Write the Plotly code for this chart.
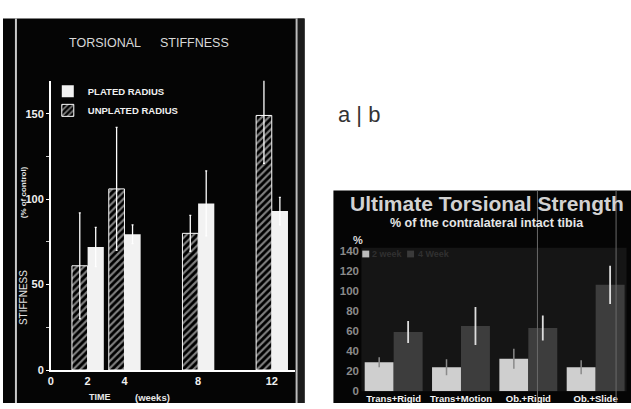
import plotly.graph_objects as go

W, H = 631, 409
FONT = "Liberation Sans, Arial, sans-serif"

# ---- Panel a: Torsional stiffness ----
weeks = [2, 4, 8, 12]
week_ticks = [0, 2, 4, 8, 12]
unplated = [61, 106, 80, 149]
unplated_err = [31, 36, 10.5, 28]
plated = [72, 79.5, 97.5, 93]
plated_err = [11.5, 5.5, 19, 8]
stiff_ticks = [0, 50, 100, 150]

# ---- Panel b: Ultimate torsional strength ----
groups = ["Trans+Rigid", "Trans+Motion", "Ob.+Rigid", "Ob.+Slide"]
wk2 = [29, 24, 32.5, 24]
wk2_err = [5, 8, 10, 7]
wk4 = [59, 65, 63, 106]
wk4_err = [11, 19, 12.5, 19]
pct_ticks = [0, 20, 40, 60, 80, 100, 120, 140]


def px(x):
    return x / W


def py(y):
    return 1 - y / H


fig = go.Figure()

fig.add_trace(go.Bar(
    x=weeks, y=unplated, name="UNPLATED RADIUS", legendrank=2,
    offset=-0.85, width=0.85, xaxis="x", yaxis="y",
    marker=dict(color="black", line=dict(color="white", width=1),
                pattern=dict(shape="/", fgcolor="white", bgcolor="black",
                             size=5, solidity=0.42)),
    error_y=dict(type="data", array=unplated_err, visible=True,
                 color="white", thickness=1.3, width=1),
    legend="legend",
))
fig.add_trace(go.Bar(
    x=weeks, y=plated, name="PLATED RADIUS", legendrank=1,
    offset=0, width=0.88, xaxis="x", yaxis="y",
    marker=dict(color="#f2f2f2", line=dict(width=0)),
    error_y=dict(type="data", array=plated_err, visible=True,
                 color="white", thickness=1.3, width=1),
    legend="legend",
))

fig.add_trace(go.Bar(
    x=groups, y=wk2, name="2 week", xaxis="x2", yaxis="y2",
    marker=dict(color="#cfcfcf", line=dict(width=0)),
    error_y=dict(type="data", array=wk2_err, visible=True,
                 color="#8a8a8a", thickness=1.5, width=0),
    showlegend=False,
))
fig.add_trace(go.Bar(
    x=groups, y=wk4, name="4 Week", xaxis="x2", yaxis="y2",
    marker=dict(color="#3d3d3d", line=dict(width=0)),
    error_y=dict(type="data", array=wk4_err, visible=True,
                 color="#dddddd", thickness=1.8, width=0),
    showlegend=False,
))

shapes = [
    # black photographic backgrounds
    dict(type="rect", xref="paper", yref="paper", x0=0, x1=px(303), y0=0, y1=py(13),
         fillcolor="#050505", line=dict(width=0), layer="below"),
    dict(type="rect", xref="paper", yref="paper", x0=px(296), x1=px(303), y0=0, y1=py(13),
         fillcolor="#1c1c1c", line=dict(width=0), layer="below"),
    dict(type="line", xref="paper", yref="paper", x0=px(13), x1=px(13), y0=0, y1=py(13),
         line=dict(color="#c8c8c8", width=2), layer="below"),
    dict(type="line", xref="paper", yref="paper", x0=px(295), x1=px(295), y0=0, y1=py(13),
         line=dict(color="#bdbdbd", width=2), layer="below"),
    dict(type="rect", xref="paper", yref="paper", x0=px(332), x1=1, y0=0, y1=py(190),
         fillcolor="#050505", line=dict(width=0), layer="below"),
    dict(type="rect", xref="x2 domain", yref="y2 domain", x0=0.005, x1=0.99, y0=0, y1=1.02,
         fillcolor="#151515", line=dict(width=0), layer="below"),
    dict(type="line", xref="paper", yref="paper", x0=px(537), x1=px(537), y0=0, y1=py(190),
         line=dict(color="#6a6a6a", width=1)),
    dict(type="line", xref="paper", yref="paper", x0=px(616), x1=px(616), y0=0, y1=py(190),
         line=dict(color="#6a6a6a", width=1)),
    # right panel legend swatches
    dict(type="rect", xref="paper", yref="paper", x0=px(361), x1=px(368), y0=py(259), y1=py(252),
         fillcolor="#bcbcbc", line=dict(width=0)),
    dict(type="rect", xref="paper", yref="paper", x0=px(406), x1=px(413), y0=py(259), y1=py(252),
         fillcolor="#3a3a3a", line=dict(width=0)),
]

ann = []


def text(x, y, s, size, color, bold=False, angle=0, xanchor="center"):
    ann.append(dict(x=px(x), y=py(y), xref="paper", yref="paper", text=s, showarrow=False,
                    xanchor=xanchor, yanchor="middle", textangle=angle,
                    font=dict(family=FONT, size=size, color=color,
                              weight="bold" if bold else "normal")))


text(102.5, 38, "TORSIONAL", 12.5, "#d8d8d8")
text(192.5, 38, "STIFFNESS", 12.5, "#d8d8d8")
text(20, 300, "STIFFNESS", 10, "#e2e2e2", angle=-90)
text(20, 192, "(% of control)", 8, "#e6e6e6", bold=True, angle=-90)
text(97.5, 403, "TIME", 9, "#e8e8e8", bold=True)
text(150.5, 403, "(weeks)", 9.5, "#e8e8e8", bold=True)

text(357.5, 112, "a | b", 22, "#333333")

text(486.5, 203.5, "Ultimate Torsional Strength", 21, "#d2d2d2", bold=True)
text(486.5, 224, "% of the contralateral intact tibia", 12.5, "#e6e6e6", bold=True)
text(357, 241, "%", 11, "#dddddd", bold=True)
text(369, 256, "2 week", 9, "#303030", bold=True, xanchor="left")
text(415, 256, "4 Week", 9, "#303030", bold=True, xanchor="left")

fig.update_layout(
    width=W, height=H, autosize=False,
    margin=dict(l=0, r=0, t=0, b=0, pad=0),
    paper_bgcolor="white", plot_bgcolor="rgba(0,0,0,0)",
    font=dict(family=FONT),
    barmode="group", bargap=0.14, bargroupgap=0,
    shapes=shapes, annotations=ann,
    xaxis=dict(domain=[px(48), px(293)], range=[0, 13.24], anchor="y",
               tickvals=week_ticks, ticktext=[str(t) for t in week_ticks],
               showline=True, linecolor="white", linewidth=1.5, ticks="",
               showgrid=False, zeroline=False,
               tickfont=dict(family=FONT, size=11, color="#f0f0f0", weight="bold")),
    yaxis=dict(domain=[py(375), py(77)], range=[0, (375 - 77) / 1.76], anchor="x",
               tickvals=stiff_ticks, showline=True, linecolor="white", linewidth=1.5,
               ticks="outside", ticklen=3, tickcolor="white", tickwidth=1.2,
               minor=dict(tickvals=[25, 75, 125], ticks="outside", ticklen=3,
                          tickcolor="#cccccc", tickwidth=1, showgrid=False),
               showgrid=False, zeroline=False,
               tickfont=dict(family=FONT, size=11, color="#f0f0f0", weight="bold")),
    xaxis2=dict(domain=[px(358.7), px(629.3)], range=[-0.5, 3.5], anchor="y2",
                type="category", showline=False, ticks="", showgrid=False, zeroline=False,
                tickfont=dict(family=FONT, size=9.5, color="#f4f4f4", weight="bold")),
    yaxis2=dict(domain=[py(397), py(252)], range=[0, 140], anchor="x2",
                tickvals=pct_ticks, showline=False, ticks="", showgrid=False, zeroline=False,
                tickfont=dict(family=FONT, size=11.5, color="#8a8a8a", weight="bold")),
    legend=dict(x=px(45), y=py(73), xanchor="left", yanchor="top",
                bgcolor="rgba(0,0,0,0)", borderwidth=0, traceorder="normal",
                font=dict(family=FONT, size=9.5, color="#f0f0f0", weight="bold"),
                itemclick=False, itemdoubleclick=False),
)

fig.write_html(
    "out.html",
    config={"displayModeBar": False},
    post_script="document.body.style.margin='0';document.body.style.padding='0';"
                "document.body.style.overflow='hidden';",
)
